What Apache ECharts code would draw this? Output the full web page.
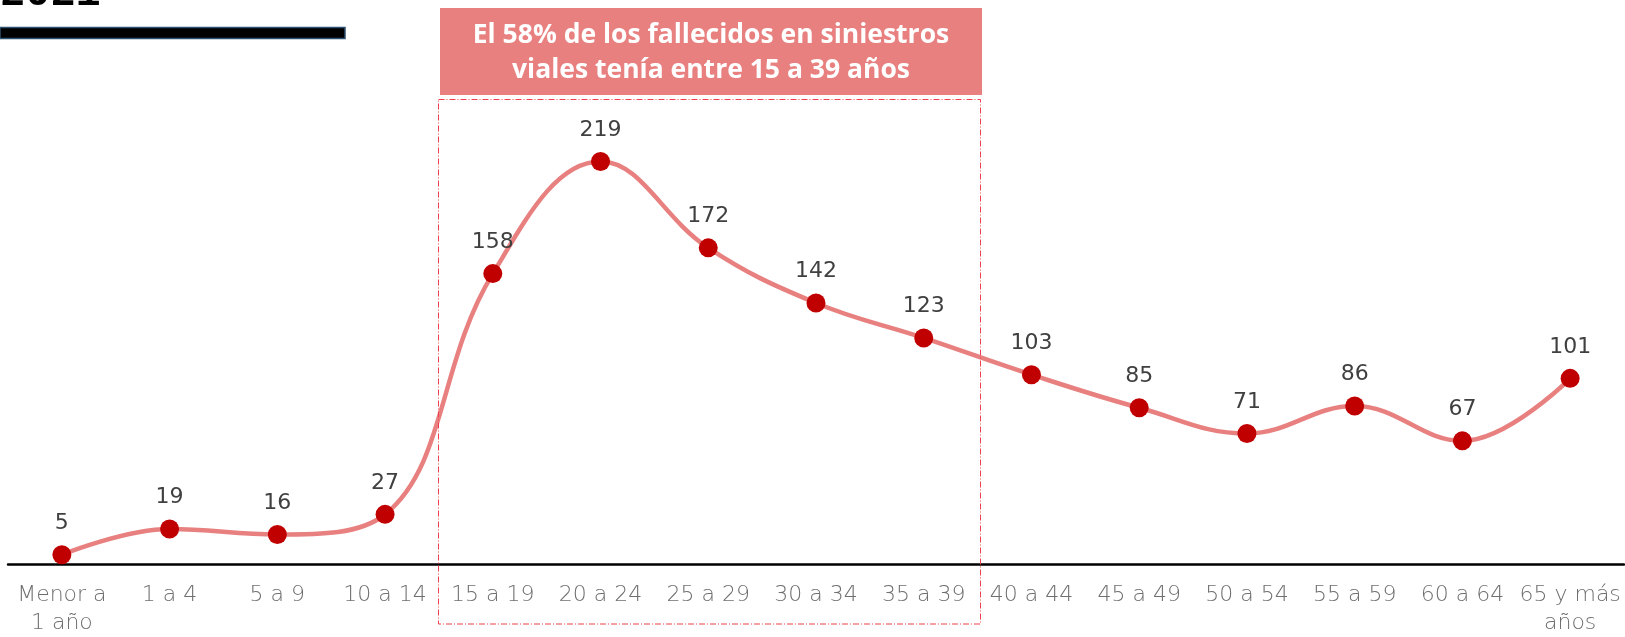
<!DOCTYPE html>
<html>
<head>
<meta charset="utf-8">
<script src="https://cdn.jsdelivr.net/npm/echarts@6/dist/echarts.min.js"></script>
<style>
  html, body { margin: 0; padding: 0; background: #fff; }
  #main { width: 1625px; height: 637px; }
</style>
</head>
<body>
<div id="main"></div>
<script>
var ageGroups = ['Menor a\n1 año', '1 a 4', '5 a 9', '10 a 14', '15 a 19', '20 a 24', '25 a 29',
  '30 a 34', '35 a 39', '40 a 44', '45 a 49', '50 a 54', '55 a 59', '60 a 64', '65 y más\naños'];
var deaths = [5, 19, 16, 27, 158, 219, 172, 142, 123, 103, 85, 71, 86, 67, 101];
var yearText = '2021';
var noteText = 'El 58% de los fallecidos en siniestros\nviales tenía entre 15 a 39 años';

var chartDom = document.getElementById('main');
var myChart = echarts.init(chartDom);
var option;

option = {
  animation: false,
  grid: { left: 8, right: 1, top: 104.5, bottom: 70.5 },
  xAxis: {
    type: 'category',
    data: ageGroups,
    axisLine: { lineStyle: { color: '#000', width: 2.5 } },
    axisTick: { show: false },
    axisLabel: {
      color: '#6f6f6f',
      fontFamily: 'DejaVu Sans',
      fontWeight: 200,
      fontSize: 22,
      lineHeight: 28,
      margin: 17,
      interval: 0
    }
  },
  yAxis: {
    type: 'value',
    min: 0,
    max: 250,
    show: false,
    splitLine: { show: false }
  },
  graphic: [
    {
      type: 'text',
      left: 0,
      top: -27,
      style: { text: yearText, font: 'bold 42px "Liberation Mono"', fill: '#000' }
    },
    {
      type: 'rect',
      shape: { x: 0, y: 27.5, width: 345, height: 11 },
      style: { fill: '#000', stroke: '#2f4f6f', lineWidth: 1.5 }
    },
    {
      type: 'rect',
      shape: { x: 440, y: 8, width: 542, height: 87 },
      style: { fill: '#e88080' }
    },
    {
      type: 'text',
      x: 711,
      y: 53,
      style: {
        text: noteText,
        fill: '#fff',
        font: 'bold 26.5px "Open Sans"',
        align: 'center',
        verticalAlign: 'middle',
        lineHeight: 35
      }
    },
    {
      type: 'rect',
      z: 10,
      shape: { x: 438.5, y: 99.5, width: 542, height: 524.5 },
      style: { fill: 'none', stroke: '#f04050', lineWidth: 1, lineDash: [6, 2, 1, 2] }
    }
  ],
  series: [
    {
      type: 'line',
      data: deaths,
      smooth: 0.4,
      symbol: 'circle',
      symbolSize: 19,
      lineStyle: { color: '#e88080', width: 4.5 },
      itemStyle: { color: '#c00000' },
      label: {
        show: true,
        position: 'top',
        distance: 11,
        color: '#404040',
        fontFamily: 'DejaVu Sans',
        fontSize: 22
      }
    }
  ]
};

option && myChart.setOption(option);
</script>
</body>
</html>
